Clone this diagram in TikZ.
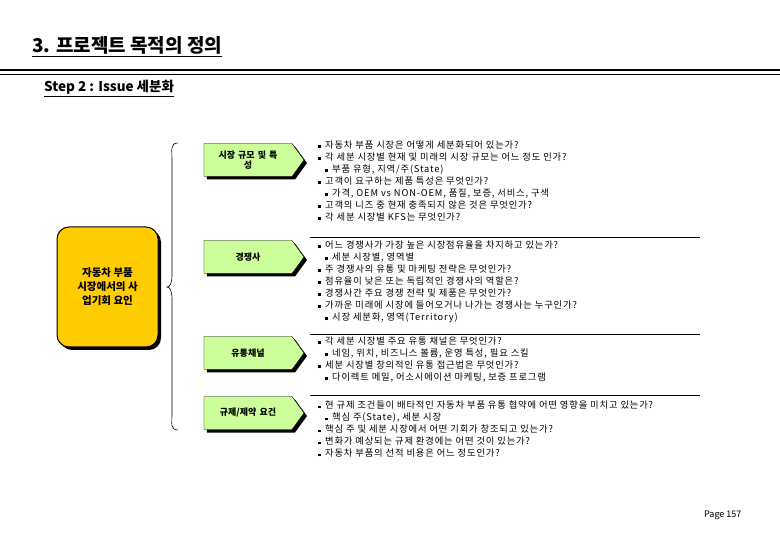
\documentclass[tikz,border=0pt]{standalone}
\usepackage{fontspec}
\setmainfont{Noto Sans CJK KR}
\newfontfamily\qfont[LetterSpace=9]{Noto Sans CJK KR}
\usetikzlibrary{shapes.symbols,shadows}
\newcommand{\bl}{\makebox[7pt][l]{\rule[0.8pt]{2.6pt}{2.6pt}}}
\newcommand{\sbl}{\hspace*{7pt}\bl}
\begin{document}
\begin{tikzpicture}[x=1pt,y=-1pt,
  greenbox/.style={shape=signal, signal to=east, signal pointer angle=108, draw=black, fill=ltgreen, minimum width=100pt, minimum height=33pt, inner sep=1pt, font=\fontsize{9}{10.5}\selectfont\bfseries, align=center, text width=75pt, drop shadow={shadow xshift=3pt, shadow yshift=-3pt, opacity=1, fill=black}},
  qtext/.style={anchor=north west, align=left, inner sep=0pt, font=\qfont\fontsize{9.3}{12}\selectfont},
  sep/.style={line width=0.8pt}]
\definecolor{ltgreen}{HTML}{CCFF99}
\definecolor{gold}{HTML}{FFCC00}
\useasboundingbox (0,0) rectangle (780,540);
\node[anchor=base west, inner sep=0pt, font=\fontsize{19}{21}\selectfont\bfseries] (title) at (32,53) {\underline{3. 프로젝트 목적의 정의}};
\draw[line width=2.5pt] (0,70) coordinate (l1) -- (780,70) coordinate (l2);
\draw[line width=0.8pt] (0,74) -- (780,74);
\node[anchor=base west, inner sep=0pt, font=\fontsize{13.5}{15}\selectfont\bfseries] (step) at (44,92) {\underline{Step 2 : Issue 세분화}};
\node[draw=black, line width=1pt, fill=gold, rounded corners=12pt, minimum width=101pt, minimum height=120pt, align=center, font=\fontsize{10.5}{14}\selectfont\bfseries, drop shadow={shadow xshift=3pt, shadow yshift=-3pt, opacity=1, fill=black}] (main) at (107.5,287) {자동차 부품\\시장에서의 사\\업기회 요인};
\coordinate (bt) at (178,143);
\coordinate (bb) at (178,430);
\coordinate (bm) at (167,287);
\draw[line width=0.6pt] (bt) .. controls (170,143) and (172,150) .. (172,160) -- (172,275) .. controls (172,283) and (170,287) .. (bm) .. controls (170,287) and (172,291) .. (172,299) -- (172,414) .. controls (172,424) and (170,430) .. (bb);
\node[greenbox] (b1) at (248,160) {시장 규모 및 특\\성};
\node[greenbox] (b2) at (248,257) {경쟁사};
\node[greenbox] (b3) at (248,353) {유통채널};
\node[greenbox] (b4) at (248,413) {규제/제약 요건};
\draw[sep] (310,237) coordinate (s1a) -- (700,237) coordinate (s1b);
\draw[sep] (310,334) coordinate (s2a) -- (700,334) coordinate (s2b);
\draw[sep] (310,395) coordinate (s3a) -- (700,395) coordinate (s3b);
\node[qtext] (t1) at (318,141) {\bl 자동차 부품 시장은 어떻게 세분화되어 있는가?\\
\bl 각 세분 시장별 현재 및 미래의 시장 규모는 어느 정도 인가?\\
\sbl 부품 유형, 지역/주(State)\\
\bl 고객이 요구하는 제품 특성은 무엇인가?\\
\sbl 가격, OEM vs NON-OEM, 품질, 보증, 서비스, 구색\\
\bl 고객의 니즈 중 현재 충족되지 않은 것은 무엇인가?\\
\bl 각 세분 시장별 KFS는 무엇인가?};
\node[qtext] (t2) at (318,241) {\bl 어느 경쟁사가 가장 높은 시장점유율을 차지하고 있는가?\\
\sbl 세분 시장별, 영역별\\
\bl 주 경쟁사의 유통 및 마케팅 전략은 무엇인가?\\
\bl 점유율이 낮은 또는 독립적인 경쟁사의 역할은?\\
\bl 경쟁사간 주요 경쟁 전략 및 제품은 무엇인가?\\
\bl 가까운 미래에 시장에 들어오거나 나가는 경쟁사는 누구인가?\\
\sbl 시장 세분화, 영역(Territory)};
\node[qtext] (t3) at (318,337) {\bl 각 세분 시장별 주요 유통 채널은 무엇인가?\\
\sbl 네임, 위치, 비즈니스 볼륨, 운영 특성, 필요 스킬\\
\bl 세분 시장별 창의적인 유통 접근법은 무엇인가?\\
\sbl 다이렉트 메일, 어소시에이션 마케팅, 보증 프로그램};
\node[qtext] (t4) at (318,401) {\bl 현 규제 조건들이 배타적인 자동차 부품 유통 협약에 어떤 영향을 미치고 있는가?\\
\sbl 핵심 주(State), 세분 시장\\
\bl 핵심 주 및 세분 시장에서 어떤 기회가 창조되고 있는가?\\
\bl 변화가 예상되는 규제 환경에는 어떤 것이 있는가?\\
\bl 자동차 부품의 선적 비용은 어느 정도인가?};
\node[anchor=base west, inner sep=0pt, font=\fontsize{9}{10}\selectfont] (page) at (704,517) {Page 157};
\end{tikzpicture}
\end{document}
